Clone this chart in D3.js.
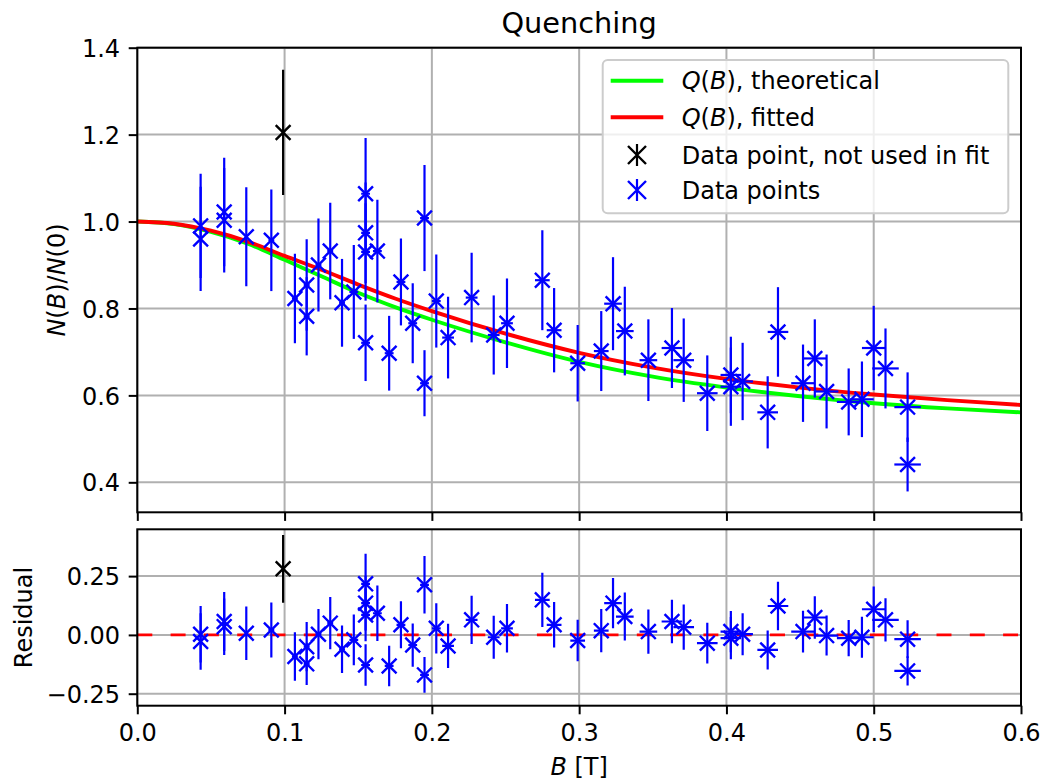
<!DOCTYPE html>
<html>
<head>
<meta charset="utf-8">
<script src="https://cdn.jsdelivr.net/npm/d3@7"></script>
<style>
  body { margin: 0; background: #fff; }
  text { font-family: "DejaVu Sans", sans-serif; fill: #000; }
</style>
</head>
<body>
<div id="main"></div>
<script>
// measured points (blue, used in fit)
const fieldB = [0.043, 0.043, 0.059, 0.059, 0.074, 0.091, 0.107, 0.115, 0.115, 0.123, 0.131, 0.139, 0.147,
  0.155, 0.155, 0.155, 0.155, 0.163, 0.171, 0.179, 0.187, 0.195, 0.195, 0.203, 0.211, 0.227, 0.242, 0.251,
  0.275, 0.283, 0.299, 0.315, 0.323, 0.331, 0.347, 0.363, 0.371, 0.387, 0.403, 0.403, 0.411, 0.428, 0.435,
  0.452, 0.460, 0.468, 0.483, 0.492, 0.500, 0.508, 0.523, 0.523];
const fieldErr = [0.001, 0.001, 0.001, 0.001, 0.001, 0.002, 0.002, 0.002, 0.002, 0.002, 0.002, 0.002, 0.003,
  0.003, 0.003, 0.003, 0.003, 0.003, 0.003, 0.003, 0.003, 0.003, 0.003, 0.003, 0.004, 0.004, 0.004, 0.004,
  0.005, 0.005, 0.005, 0.005, 0.006, 0.006, 0.006, 0.007, 0.007, 0.007, 0.007, 0.007, 0.007, 0.007, 0.007,
  0.008, 0.008, 0.008, 0.008, 0.008, 0.008, 0.009, 0.009, 0.009];
const ratio = [0.990, 0.960, 1.022, 1.003, 0.965, 0.957, 0.823, 0.854, 0.782, 0.900, 0.932, 0.813, 0.838,
  1.064, 0.974, 0.930, 0.721, 0.932, 0.697, 0.861, 0.766, 1.008, 0.628, 0.817, 0.733, 0.825, 0.739, 0.766,
  0.865, 0.750, 0.674, 0.702, 0.811, 0.748, 0.681, 0.709, 0.681, 0.605, 0.647, 0.620, 0.632, 0.561, 0.746,
  0.628, 0.685, 0.609, 0.585, 0.591, 0.709, 0.662, 0.573, 0.441];
const ratioErr = [0.12, 0.12, 0.125, 0.12, 0.114, 0.117, 0.103, 0.105, 0.09, 0.107, 0.111, 0.101, 0.108,
  0.128, 0.116, 0.112, 0.088, 0.118, 0.086, 0.1, 0.092, 0.122, 0.076, 0.107, 0.094, 0.103, 0.091, 0.103,
  0.115, 0.097, 0.088, 0.092, 0.107, 0.102, 0.094, 0.092, 0.096, 0.087, 0.088, 0.09, 0.089, 0.083, 0.103,
  0.089, 0.09, 0.085, 0.077, 0.087, 0.097, 0.092, 0.08, 0.062];
const residual = [0.003, -0.028, 0.057, 0.035, 0.007, 0.021, -0.092, -0.05, -0.123, 0.003, 0.05, -0.061, -0.021,
  0.217, 0.135, 0.085, -0.128, 0.092, -0.132, 0.043, -0.043, 0.213, -0.17, 0.028, -0.047, 0.064, -0.01, 0.028,
  0.149, 0.043, -0.024, 0.018, 0.135, 0.078, 0.014, 0.057, 0.033, -0.035, 0.014, -0.014, 0.003, -0.064, 0.123,
  0.014, 0.074, -0.003, -0.014, -0.01, 0.109, 0.064, -0.018, -0.153];

// the one point left out of the fit (black)
const outB = [0.099];
const outRatio = [1.205];
const outErr = [0.144];
const outResidual = [0.281];

// model curves
const curveB = [0, 0.025, 0.05, 0.075, 0.1, 0.125, 0.15, 0.175, 0.2, 0.25, 0.3, 0.35, 0.4, 0.45, 0.5, 0.55, 0.6];
const theoretical = [1.0, 0.994, 0.976, 0.949, 0.912, 0.874, 0.836, 0.803, 0.774, 0.722, 0.677, 0.643, 0.618, 0.598, 0.582, 0.570, 0.561];
const fitted = [1.0, 0.995, 0.979, 0.954, 0.921, 0.889, 0.855, 0.823, 0.794, 0.742, 0.698, 0.664, 0.638, 0.618, 0.602, 0.589, 0.578];

const xTicks = [0, 0.1, 0.2, 0.3, 0.4, 0.5, 0.6];
const yTicks = [0.4, 0.6, 0.8, 1.0, 1.2, 1.4];
const resTicks = [-0.25, 0, 0.25];

const W = 1043, H = 784;
const left = 137.3, right = 1021;
const top1 = 47.7, bot1 = 512.3, top2 = 529.3, bot2 = 705.7;
const FS = 24;

const x = d3.scaleLinear().domain([0, 0.6]).range([left, right]);
const y = d3.scaleLinear().domain([0.331, 1.4]).range([bot1, top1]);
const yr = d3.scaleLinear().domain([-0.301, 0.449]).range([bot2, top2]);

const svg = d3.select("#main").append("svg").attr("width", W).attr("height", H);

const defs = svg.append("defs");
defs.append("clipPath").attr("id", "clipTop").append("rect")
  .attr("x", left).attr("y", top1).attr("width", right - left).attr("height", bot1 - top1);
defs.append("clipPath").attr("id", "clipBot").append("rect")
  .attr("x", left).attr("y", top2).attr("width", right - left).attr("height", bot2 - top2);

function grid(g, yScale, yVals, y0, y1) {
  g.selectAll(".gx").data(xTicks).enter().append("line")
    .attr("x1", d => x(d)).attr("x2", d => x(d)).attr("y1", y0).attr("y2", y1)
    .attr("stroke", "#b0b0b0").attr("stroke-width", 2);
  g.selectAll(".gy").data(yVals).enter().append("line")
    .attr("x1", left).attr("x2", right).attr("y1", d => yScale(d)).attr("y2", d => yScale(d))
    .attr("stroke", "#b0b0b0").attr("stroke-width", 2);
}

grid(svg.append("g"), y, yTicks, top1, bot1);
grid(svg.append("g"), yr, resTicks, top2, bot2);

// curves
const line = d3.line().x(d => x(d[0])).y(d => y(d[1])).curve(d3.curveMonotoneX);
const topPanel = svg.append("g").attr("clip-path", "url(#clipTop)");
topPanel.append("path").datum(curveB.map((b, i) => [b, theoretical[i]]))
  .attr("d", line).attr("fill", "none").attr("stroke", "#00ff00").attr("stroke-width", 3.9);
topPanel.append("path").datum(curveB.map((b, i) => [b, fitted[i]]))
  .attr("d", line).attr("fill", "none").attr("stroke", "#ff0000").attr("stroke-width", 3.9);

const botPanel = svg.append("g").attr("clip-path", "url(#clipBot)");
botPanel.append("line").attr("x1", left).attr("x2", right).attr("y1", yr(0)).attr("y2", yr(0))
  .attr("stroke", "#ff0000").attr("stroke-width", 2.6).attr("stroke-dasharray", "15,18.3");

const M = 7.4;
const xMark = `M${-M},${-M}L${M},${M}M${-M},${M}L${M},${-M}`;

function errorbars(g, pts, yScale, color) {
  const bars = g.append("g").attr("stroke", color).attr("stroke-width", 2.2);
  bars.selectAll(".v").data(pts).enter().append("line")
    .attr("x1", d => x(d.b)).attr("x2", d => x(d.b))
    .attr("y1", d => yScale(d.v - d.e)).attr("y2", d => yScale(d.v + d.e));
  bars.selectAll(".h").data(pts).enter().append("line")
    .attr("x1", d => x(d.b - d.be)).attr("x2", d => x(d.b + d.be))
    .attr("y1", d => yScale(d.v)).attr("y2", d => yScale(d.v));
  g.append("g").selectAll("path").data(pts).enter().append("path")
    .attr("transform", d => `translate(${x(d.b)},${yScale(d.v)})`)
    .attr("d", xMark).attr("fill", "none").attr("stroke", color).attr("stroke-width", 2.4);
}

const blueTop = fieldB.map((b, i) => ({ b, be: fieldErr[i], v: ratio[i], e: ratioErr[i] }));
const blueRes = fieldB.map((b, i) => ({ b, be: fieldErr[i], v: residual[i], e: ratioErr[i] }));
const blackTop = outB.map((b, i) => ({ b, be: 0, v: outRatio[i], e: outErr[i] }));
const blackRes = outB.map((b, i) => ({ b, be: 0, v: outResidual[i], e: outErr[i] }));

errorbars(topPanel, blackTop, y, "#000000");
errorbars(topPanel, blueTop, y, "#0000ff");
errorbars(botPanel, blackRes, yr, "#000000");
errorbars(botPanel, blueRes, yr, "#0000ff");

// frames and ticks
function frame(y0, y1) {
  svg.append("rect").attr("x", left).attr("y", y0).attr("width", right - left).attr("height", y1 - y0)
    .attr("fill", "none").attr("stroke", "#000").attr("stroke-width", 2);
}
frame(top1, bot1);
frame(top2, bot2);

function styleAxis(g) {
  g.select(".domain").remove();
  g.selectAll(".tick line").attr("stroke", "#000").attr("stroke-width", 2);
  g.selectAll(".tick text").style("font-size", FS + "px").attr("fill", "#000");
}

svg.append("g").attr("transform", `translate(${left},0)`)
  .call(d3.axisLeft(y).tickValues(yTicks).tickSize(8.6).tickPadding(8.6).tickFormat(d3.format(".1f")))
  .call(styleAxis)
  .selectAll(".tick text").attr("dy", "0.36em");
svg.append("g").attr("transform", `translate(0,${bot1})`)
  .call(d3.axisBottom(x).tickValues(xTicks).tickSize(8.6).tickFormat(""))
  .call(styleAxis);

svg.append("g").attr("transform", `translate(${left},0)`)
  .call(d3.axisLeft(yr).tickValues(resTicks).tickSize(8.6).tickPadding(8.6).tickFormat(d3.format(".2f")))
  .call(styleAxis)
  .selectAll(".tick text").attr("dy", "0.36em");
svg.append("g").attr("transform", `translate(0,${bot2})`)
  .call(d3.axisBottom(x).tickValues(xTicks).tickSize(8.6).tickPadding(8.6).tickFormat(d3.format(".1f")))
  .call(styleAxis)
  .selectAll(".tick text").attr("dy", "0.76em");

// texts with italic math parts
function richText(g, parts) {
  parts.forEach(p => {
    g.append("tspan").text(p[0]).style("font-style", p[1] ? "italic" : "normal");
  });
  return g;
}

svg.append("text").attr("x", (left + right) / 2).attr("y", 33)
  .attr("text-anchor", "middle").style("font-size", "28.8px").text("Quenching");

richText(svg.append("text").attr("transform", `translate(65,${(top1 + bot1) / 2}) rotate(-90)`)
  .attr("text-anchor", "middle").style("font-size", FS + "px"),
  [["N", 1], ["(", 0], ["B", 1], [")/", 0], ["N", 1], ["(0)", 0]]);

svg.append("text").attr("transform", `translate(32,${(top2 + bot2) / 2}) rotate(-90)`)
  .attr("text-anchor", "middle").style("font-size", FS + "px").text("Residual");

richText(svg.append("text").attr("x", (left + right) / 2).attr("y", 775)
  .attr("text-anchor", "middle").style("font-size", FS + "px"),
  [["B", 1], [" [T]", 0]]);

// legend
const legendLabels = [
  [["Q", 1], ["(", 0], ["B", 1], ["), theoretical", 0]],
  [["Q", 1], ["(", 0], ["B", 1], ["), fitted", 0]],
  [["Data point, not used in fit", 0]],
  [["Data points", 0]]
];
const legendColors = ["#00ff00", "#ff0000", "#000000", "#0000ff"];
const legendKind = ["line", "line", "err", "err"];
const rowY = [80.7, 117.3, 155, 190];

const lg = svg.append("g");
lg.append("rect").attr("x", 602.7).attr("y", 60).attr("width", 405.6).attr("height", 153.3)
  .attr("rx", 5).attr("fill", "#fff").attr("fill-opacity", 0.8)
  .attr("stroke", "#cccccc").attr("stroke-width", 2);
legendLabels.forEach((lab, i) => {
  const cy = rowY[i];
  if (legendKind[i] === "line") {
    lg.append("line").attr("x1", 610.7).attr("x2", 663.3).attr("y1", cy).attr("y2", cy)
      .attr("stroke", legendColors[i]).attr("stroke-width", 3.9);
  } else {
    const L = 9;
    lg.append("line").attr("x1", 637).attr("x2", 637).attr("y1", cy - 11).attr("y2", cy + 11)
      .attr("stroke", legendColors[i]).attr("stroke-width", 2.2);
    lg.append("path").attr("transform", `translate(637,${cy})`)
      .attr("d", `M${-L},${-L}L${L},${L}M${-L},${L}L${L},${-L}`)
      .attr("fill", "none").attr("stroke", legendColors[i]).attr("stroke-width", 2.4);
  }
  richText(lg.append("text").attr("x", 681.7).attr("y", cy + 8.7).style("font-size", FS + "px"), lab);
});
</script>
</body>
</html>
